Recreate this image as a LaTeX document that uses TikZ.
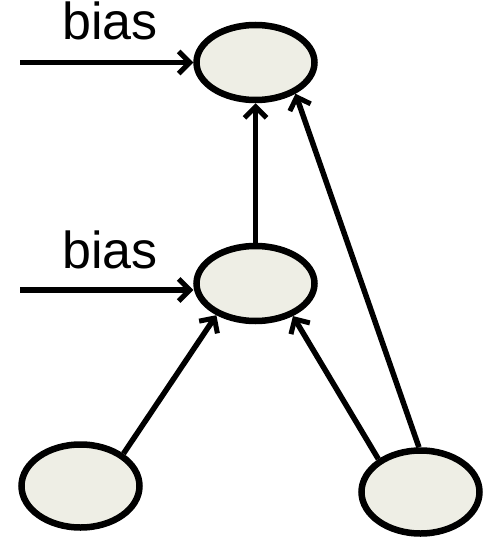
\documentclass[tikz,border=0pt]{standalone}
\usepackage{fontspec}
\setmainfont{Liberation Sans}
\usetikzlibrary{shapes.geometric}
\usetikzlibrary{arrows.meta}
\usetikzlibrary{positioning, calc}

\definecolor{cellfill}{RGB}{238,238,229}

\begin{document}
\begin{tikzpicture}[x=1pt, y=-1pt]

\tikzset{
  unit/.style={draw, ellipse, fill=cellfill, line width=6.5pt, inner sep=0pt,
    minimum width=118pt, minimum height=75pt},
  inunit/.style={unit, minimum height=83pt},
  link/.style={line width=5.5pt, -{Straight Barb[length=11pt, width=22pt, line width=5pt]}},
  lbl/.style={anchor=base, font=\fontsize{52}{62}\selectfont},
}
\useasboundingbox (0, 0) rectangle (493, 540);

\node [unit] (top) at (255.5, 62.5) {};
\node [unit] (mid) at (255.5, 283.5) {};
\node [inunit] (inl) at (80.5, 486) {};
\node [inunit] (inr) at (420.5, 492) {};

\coordinate (btop) at (20, 62.5);
\coordinate (bmid) at (20, 290);
\node [lbl] (ltop) at (110, 40) {bias};
\node [lbl] (lmid) at (110, 268) {bias};

\draw [link] (btop) -- (top.west);
\draw [link] (bmid) -- (bmid -| mid.west);

\draw [link] (mid.north) -- (top.south);
\draw [link] (inl.37) -- (mid.219);
\draw [link] (inr.142) -- (mid.319);
\draw [link] (inr.92) -- (top.322);

\end{tikzpicture}
\end{document}
